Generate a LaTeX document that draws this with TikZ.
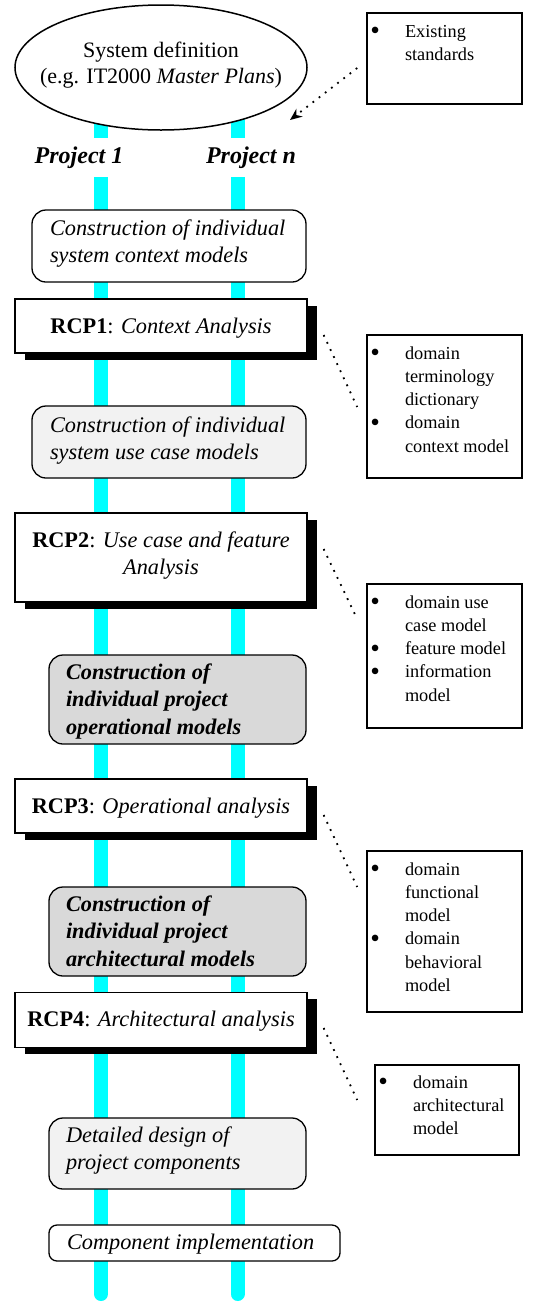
\documentclass[tikz,border=0pt]{standalone}
\usepackage{fontspec}
\setmainfont{Liberation Serif}[
  ItalicFont={Liberation Serif Italic},
  BoldFont={Liberation Serif Bold},
  BoldItalicFont={Liberation Serif Bold Italic}]
\usetikzlibrary{shapes.geometric,shadows,calc,arrows.meta}

\definecolor{lane}{RGB}{0,255,255}
\definecolor{palegray}{RGB}{242,242,242}
\definecolor{midgray}{RGB}{217,217,217}

% text placed inside a node: #1 alignment, #2 horizontal offset,
% #3 height of the first baseline above the node centre, #4 content
\newcommand\txtat[4]{\makebox[0pt][#1]{\hspace*{#2}\raisebox{#3}[0pt][0pt]{#4}}}
% list bullet hanging left of the item text
\newcommand\bul{\leavevmode\llap{\raisebox{-2.8pt}[0pt][0pt]{\scalebox{1.5}{\textbullet}}\hspace{25pt}}}

\tikzset{
  main/.style={rectangle, draw, inner sep=0pt, line width=1.3pt,
    font=\fontsize{22.3}{27.5}\selectfont},
  roundbox/.style={main, rounded corners=14pt},
  rcpbox/.style={main, fill=white,
    general shadow={fill=black, shadow xshift=9.5pt, shadow yshift=-6.5pt}},
  notebox/.style={rectangle, draw, fill=white, line width=1.6pt, inner sep=0pt,
    font=\fontsize{18.3}{23.3}\selectfont},
  dotlink/.style={line width=1.8pt, dash pattern=on 1.8pt off 6pt},
  lanebar/.style={draw=lane, line width=14pt, line cap=round},
  projlabel/.style={fill=white, inner xsep=2pt, inner ysep=0pt,
    text height=25pt, text depth=14pt, anchor=base,
    font=\fontsize{24}{28}\selectfont\bfseries\itshape},
}

\begin{document}
\begin{tikzpicture}[x=1pt,y=-1pt]
\useasboundingbox (0,0) rectangle (538,1302);

% the two project lanes
\coordinate (laneAtop) at (101,118);
\coordinate (laneAbot) at (101,1294);
\coordinate (laneBtop) at (237.5,118);
\coordinate (laneBbot) at (237.5,1294);
\draw[lanebar] (laneAtop) -- (laneAbot);
\draw[lanebar] (laneBtop) -- (laneBbot);

% system definition
\node[ellipse, draw, fill=white, line width=1.5pt, inner sep=0pt,
      minimum width=292pt, minimum height=125pt,
      font=\fontsize{22}{26}\selectfont] (sys) at (161,67.5)
  {\txtat{c}{0pt}{10.5pt}{\parbox[t]{300pt}{\centering System definition\\(e.g. IT2000 \textit{Master Plans})}}};

\node[projlabel] (proj1) at (79,163) {Project 1};
\node[projlabel] (projn) at (251,163) {Project n};

% existing standards
\node[notebox, minimum width=155pt, minimum height=91pt] (std) at (444.5,58.5)
  {\txtat{l}{-39.5pt}{21.5pt}{\parbox[t]{140pt}{\bul Existing\\standards}}};

% process steps
\node[roundbox, fill=white, minimum width=274pt, minimum height=72pt] (ctx) at (169,246)
  {\txtat{l}{-119pt}{11pt}{\parbox[t]{300pt}{\itshape Construction of individual\\system context models}}};

\node[rcpbox, minimum width=292pt, minimum height=54pt] (rcp1) at (161,326)
  {\txtat{c}{0pt}{-7pt}{\textbf{RCP1}: \textit{Context Analysis}}};

\node[roundbox, fill=palegray, minimum width=274pt, minimum height=72pt] (uc) at (169,442)
  {\txtat{l}{-119pt}{10pt}{\parbox[t]{300pt}{\itshape Construction of individual\\system use case models}}};

\node[rcpbox, minimum width=292pt, minimum height=89pt] (rcp2) at (161,557.5)
  {\txtat{c}{0pt}{10.5pt}{\parbox[t]{300pt}{\centering\textbf{RCP2}: \textit{Use case and feature}\\\textit{Analysis}}}};

\node[roundbox, fill=midgray, minimum width=257pt, minimum height=89pt] (op) at (177.5,699.5)
  {\txtat{l}{-111.5pt}{20.5pt}{\parbox[t]{300pt}{\bfseries\itshape Construction of\\individual project\\operational models}}};

\node[rcpbox, minimum width=292pt, minimum height=54pt] (rcp3) at (161,806)
  {\txtat{c}{0pt}{-7pt}{\textbf{RCP3}: \textit{Operational analysis}}};

\node[roundbox, fill=midgray, minimum width=257pt, minimum height=89pt] (arch) at (177.5,931.5)
  {\txtat{l}{-111.5pt}{20.5pt}{\parbox[t]{300pt}{\bfseries\itshape Construction of\\individual project\\architectural models}}};

\node[rcpbox, minimum width=292pt, minimum height=55pt] (rcp4) at (161,1020)
  {\txtat{c}{0pt}{-6.5pt}{\textbf{RCP4}: \textit{Architectural analysis}}};

\node[roundbox, fill=palegray, minimum width=257pt, minimum height=71pt] (dd) at (177.5,1153.5)
  {\txtat{l}{-111.5pt}{11.5pt}{\parbox[t]{300pt}{\itshape Detailed design of\\project components}}};

\node[roundbox, rounded corners=8pt, fill=white, minimum width=291pt, minimum height=36pt] (impl) at (194.5,1243)
  {\txtat{l}{-127.5pt}{-6pt}{\itshape Component implementation}};

% domain products of each RCP
\node[notebox, minimum width=155pt, minimum height=143pt] (prod1) at (444.5,406.5)
  {\txtat{l}{-39.5pt}{47.5pt}{\parbox[t]{140pt}{\bul domain\\terminology\\dictionary\\\bul domain\\context model}}};

\node[notebox, minimum width=155pt, minimum height=144pt] (prod2) at (444.5,656)
  {\txtat{l}{-39.5pt}{48pt}{\parbox[t]{140pt}{\bul domain use\\case model\\\bul feature model\\\bul information\\model}}};

\node[notebox, minimum width=155pt, minimum height=161pt] (prod3) at (444.5,931.5)
  {\txtat{l}{-39.5pt}{56.5pt}{\parbox[t]{140pt}{\bul domain\\functional\\model\\\bul domain\\behavioral\\model}}};

\node[notebox, minimum width=144pt, minimum height=90pt] (prod4) at (447,1110)
  {\txtat{l}{-34pt}{22pt}{\parbox[t]{140pt}{\bul domain\\architectural\\model}}};

% dotted links
\coordinate (stdtail) at ($(std.west)+(-9,9.5)$);
\coordinate (stdhead) at ($(sys.center)+(129,52.5)$);
\draw[dotlink, -{Stealth[length=12pt,width=10pt]}] (stdtail) -- (stdhead);

\coordinate (r1a) at ($(rcp1.east)+(16,9)$);
\coordinate (r1b) at ($(prod1.west)+(-9,0.5)$);
\draw[dotlink] (r1a) -- (r1b);

\coordinate (r2a) at ($(rcp2.east)+(16,-8.5)$);
\coordinate (r2b) at ($(prod2.west)+(-9,-37)$);
\draw[dotlink] (r2a) -- (r2b);

\coordinate (r3a) at ($(rcp3.east)+(16,9)$);
\coordinate (r3b) at ($(prod3.west)+(-9,-44.5)$);
\draw[dotlink] (r3a) -- (r3b);

\coordinate (r4a) at ($(rcp4.east)+(16,8)$);
\coordinate (r4b) at ($(prod4.west)+(-17,-10)$);
\draw[dotlink] (r4a) -- (r4b);
\end{tikzpicture}
\end{document}
